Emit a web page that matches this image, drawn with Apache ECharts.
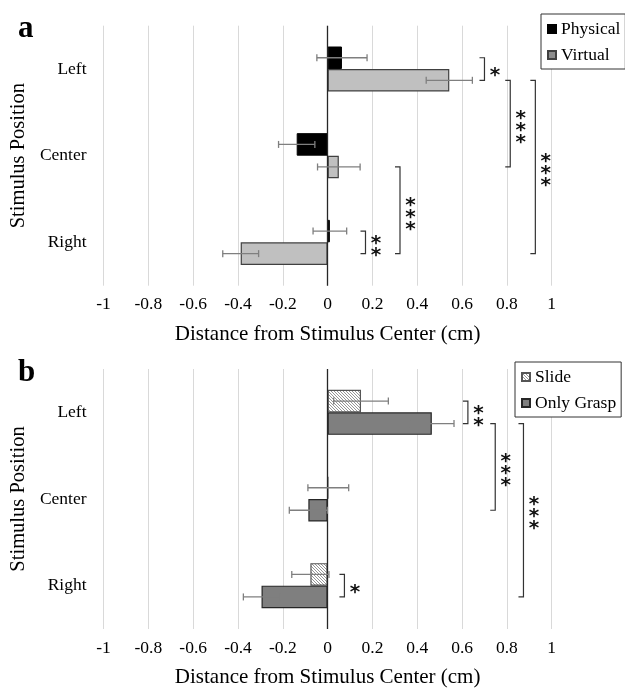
<!DOCTYPE html>
<html>
<head>
<meta charset="utf-8">
<script src="https://cdn.jsdelivr.net/npm/echarts@6/dist/echarts.min.js"></script>
<style>
html, body { margin: 0; padding: 0; background: #fff; }
#main { width: 625px; height: 691px; }
</style>
</head>
<body>
<div id="main"></div>
<script>
// categories (top to bottom)
var categories = ['Left', 'Center', 'Right'];

// panel a
var physicalMean = [0.064, -0.138, 0.010];
var physicalErr = [0.112, 0.081, 0.075];
var virtualMean = [0.543, 0.050, -0.388];
var virtualErr = [0.103, 0.095, 0.080];

// panel b
var slideMean = [0.149, 0.003, -0.077];
var slideErr = [0.122, 0.091, 0.083];
var graspMean = [0.465, -0.086, -0.295];
var graspErr = [0.099, 0.085, 0.081];

// significance brackets: [x, fromCategory, fromBar, toCategory, toBar]
var bracketsA = [[0.70, 0, 0, 0, 1], [0.815, 0, 1, 1, 1], [0.927, 0, 1, 2, 1], [0.323, 1, 1, 2, 1], [0.169, 2, 0, 2, 1]];
var starsA = ['*', '***', '***', '***', '**'];
var bracketsB = [[0.626, 0, 0, 0, 1], [0.748, 0, 1, 1, 1], [0.874, 0, 1, 2, 1], [0.075, 2, 0, 2, 1]];
var starsB = ['**', '***', '***', '*'];

var FONT = "'Liberation Serif', 'Times New Roman', serif";
var BAR_OFF = 0.13; // half distance between the two bar centres, in bands

// hatch pattern for "Slide"
var hatch = document.createElement('canvas');
hatch.width = 3; hatch.height = 3;
var hc = hatch.getContext('2d');
hc.fillStyle = '#fff';
hc.fillRect(0, 0, 3, 3);
hc.strokeStyle = '#8a8a8a';
hc.lineWidth = 0.9;
hc.beginPath();
hc.moveTo(-1, -1); hc.lineTo(4, 4);
hc.moveTo(-2, 1); hc.lineTo(1, 4);
hc.moveTo(2, -1); hc.lineTo(4, 1);
hc.stroke();

function errData(mean, err) {
    return categories.map(function (c, i) { return [i, mean[i], err[i]]; });
}

function errorBars(offset) {
    return function (params, api) {
        var band = api.size([0, 1])[1];
        var y = api.coord([0, api.value(0)])[1] + offset * band;
        var lo = api.coord([api.value(1) - api.value(2), 0])[0];
        var hi = api.coord([api.value(1) + api.value(2), 0])[0];
        var st = { stroke: '#7f7f7f', lineWidth: 1.3 };
        return {
            type: 'group',
            children: [
                { type: 'line', shape: { x1: lo, y1: y, x2: hi, y2: y }, style: st },
                { type: 'line', shape: { x1: lo, y1: y - 3.5, x2: lo, y2: y + 3.5 }, style: st },
                { type: 'line', shape: { x1: hi, y1: y - 3.5, x2: hi, y2: y + 3.5 }, style: st }
            ]
        };
    };
}

function bracketItem(stars) {
    return function (params, api) {
        var band = api.size([0, 1])[1];
        var x = api.coord([api.value(0), 0])[0];
        var y1 = api.coord([0, api.value(1)])[1] + (api.value(2) ? 1 : -1) * BAR_OFF * band;
        var y2 = api.coord([0, api.value(3)])[1] + (api.value(4) ? 1 : -1) * BAR_OFF * band;
        var s = stars[params.dataIndex];
        return {
            type: 'group',
            children: [
                {
                    type: 'polyline',
                    shape: { points: [[x - 5, y1], [x, y1], [x, y2], [x - 5, y2]] },
                    style: { stroke: '#333', lineWidth: 1.2, fill: null }
                },
                {
                    type: 'text',
                    x: x + 10.5,
                    y: (y1 + y2) / 2 + 7,
                    style: {
                        text: s.split('').join('\n'),
                        font: 'bold 20px "DejaVu Sans", sans-serif',
                        lineHeight: 12,
                        fill: '#111',
                        align: 'center',
                        verticalAlign: 'middle'
                    }
                }
            ]
        };
    };
}

function valueAxis(gi) {
    return {
        type: 'value', gridIndex: gi, min: -1, max: 1, interval: 0.2,
        name: 'Distance from Stimulus Center (cm)',
        nameLocation: 'middle', nameGap: 38,
        nameTextStyle: { fontFamily: FONT, fontSize: 21, color: '#000' },
        axisLine: { show: false }, axisTick: { show: false },
        axisLabel: { fontFamily: FONT, fontSize: 17.5, color: '#000', margin: 10 },
        splitLine: { lineStyle: { color: '#d9d9d9', width: 1 } }
    };
}

function catAxis(gi) {
    return {
        type: 'category', gridIndex: gi, data: categories, inverse: true,
        name: 'Stimulus Position', nameLocation: 'middle', nameGap: 72,
        nameTextStyle: { fontFamily: FONT, fontSize: 20.5, color: '#000' },
        axisLine: { show: false }, axisTick: { show: false },
        axisLabel: { fontFamily: FONT, fontSize: 17.5, color: '#000', margin: 17 },
        splitLine: { show: false }
    };
}

var zeroLine = {
    silent: true, symbol: 'none', label: { show: false },
    lineStyle: { color: '#262626', width: 1.3, type: 'solid' },
    data: [{ xAxis: 0 }]
};

function legend(top, left, names) {
    return {
        orient: 'vertical', top: top, left: left, data: names, icon: 'rect',
        itemWidth: 8, itemHeight: 8, itemGap: 8,
        padding: [6, 5, 5, 6],
        borderColor: '#333', borderWidth: 1, backgroundColor: '#fff',
        textStyle: { fontFamily: FONT, fontSize: 17.5, color: '#000' }
    };
}

var chart = echarts.init(document.getElementById('main'), null, { renderer: 'canvas' });
chart.setOption({
    animation: false,
    title: [
        { text: 'a', left: 13, top: 8, textStyle: { fontFamily: FONT, fontSize: 31, fontWeight: 'bold', color: '#000' } },
        { text: 'b', left: 13, top: 352, textStyle: { fontFamily: FONT, fontSize: 31, fontWeight: 'bold', color: '#000' } }
    ],
    legend: [
        legend(14, 541, ['Physical', { name: 'Virtual', itemStyle: { color: '#8c8c8c' } }]),
        legend(362, 515, ['Slide', 'Only Grasp'])
    ],
    grid: [
        { left: 101.7, right: 73.3, top: 25.7, height: 260 },
        { left: 101.7, right: 73.3, top: 369, height: 260 }
    ],
    xAxis: [valueAxis(0), valueAxis(1)],
    yAxis: [catAxis(0), catAxis(1)],
    series: [
        {
            name: 'Physical', type: 'bar', xAxisIndex: 0, yAxisIndex: 0,
            data: physicalMean, barCategoryGap: '48%', barGap: '0%',
            itemStyle: { color: '#000', borderColor: '#000', borderWidth: 1 },
            markLine: zeroLine
        },
        {
            name: 'Virtual', type: 'bar', xAxisIndex: 0, yAxisIndex: 0,
            data: virtualMean, barCategoryGap: '48%', barGap: '0%',
            itemStyle: { color: '#c0c0c0', borderColor: '#404040', borderWidth: 1.2 }
        },
        {
            type: 'custom', xAxisIndex: 0, yAxisIndex: 0, z: 5, silent: true,
            data: errData(physicalMean, physicalErr), encode: { y: 0, x: 1 },
            renderItem: errorBars(-BAR_OFF)
        },
        {
            type: 'custom', xAxisIndex: 0, yAxisIndex: 0, z: 5, silent: true,
            data: errData(virtualMean, virtualErr), encode: { y: 0, x: 1 },
            renderItem: errorBars(BAR_OFF)
        },
        {
            type: 'custom', xAxisIndex: 0, yAxisIndex: 0, z: 5, silent: true, clip: false,
            data: bracketsA, encode: { x: 0, y: 1 },
            renderItem: bracketItem(starsA)
        },
        {
            name: 'Slide', type: 'bar', xAxisIndex: 1, yAxisIndex: 1,
            data: slideMean, barCategoryGap: '48%', barGap: '0%',
            itemStyle: { color: { image: hatch, repeat: 'repeat' }, borderColor: '#555', borderWidth: 1.2 },
            markLine: zeroLine
        },
        {
            name: 'Only Grasp', type: 'bar', xAxisIndex: 1, yAxisIndex: 1,
            data: graspMean, barCategoryGap: '48%', barGap: '0%',
            itemStyle: { color: '#7f7f7f', borderColor: '#262626', borderWidth: 1.2 }
        },
        {
            type: 'custom', xAxisIndex: 1, yAxisIndex: 1, z: 5, silent: true,
            data: errData(slideMean, slideErr), encode: { y: 0, x: 1 },
            renderItem: errorBars(-BAR_OFF)
        },
        {
            type: 'custom', xAxisIndex: 1, yAxisIndex: 1, z: 5, silent: true,
            data: errData(graspMean, graspErr), encode: { y: 0, x: 1 },
            renderItem: errorBars(BAR_OFF)
        },
        {
            type: 'custom', xAxisIndex: 1, yAxisIndex: 1, z: 5, silent: true, clip: false,
            data: bracketsB, encode: { x: 0, y: 1 },
            renderItem: bracketItem(starsB)
        }
    ]
});
</script>
</body>
</html>
